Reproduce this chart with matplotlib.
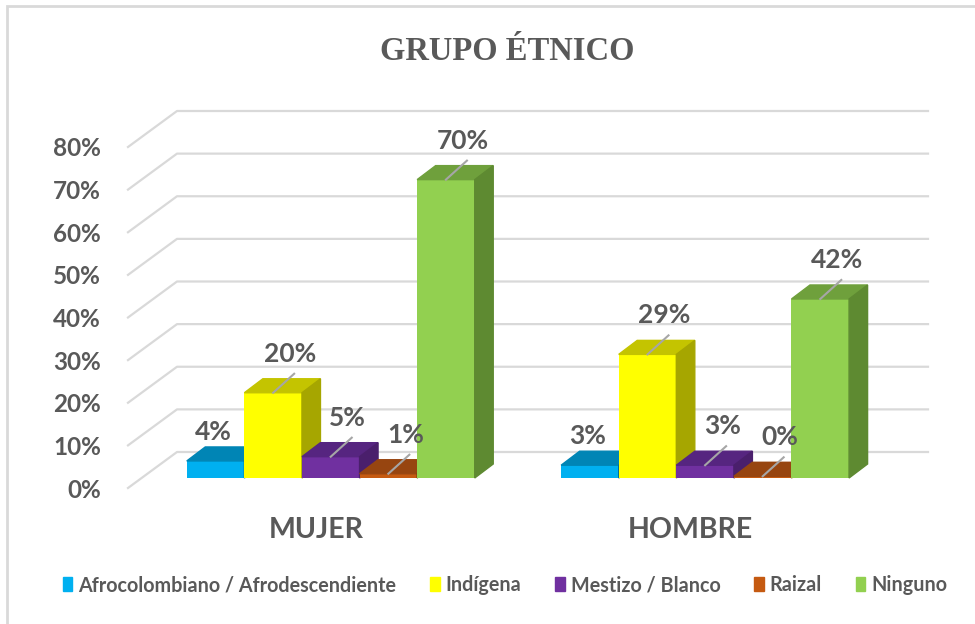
import matplotlib.pyplot as plt
from matplotlib.patches import Polygon, Patch, Rectangle
from matplotlib.lines import Line2D

# data
groups = ["MUJER", "HOMBRE"]
series = ["Afrocolombiano / Afrodescendiente", "Indígena", "Mestizo / Blanco", "Raizal", "Ninguno"]
mujer = [0.04, 0.20, 0.05, 0.01, 0.70]
hombre = [0.03, 0.29, 0.03, 0.004, 0.42]
y_ticks = [0.0, 0.1, 0.2, 0.3, 0.4, 0.5, 0.6, 0.7, 0.8]

# colours: front, top, side
front_c = ["#00B0F0", "#FFFF00", "#7030A0", "#C55A11", "#92D050"]
top_c = ["#0085B5", "#C4C400", "#562580", "#974510", "#6FA03C"]
side_c = ["#006E96", "#A6A600", "#4A1F6C", "#7E390D", "#5E8A31"]
grey = "#595959"
grid_c = "#D9D9D9"

DPI = 100
fig = plt.figure(figsize=(9.75, 6.24), dpi=DPI)
W, H = 975, 624

# axes = plane of the bar front faces
ax_l, ax_r, ax_b, ax_t = 143, 894, 478, 137
ax = fig.add_axes([ax_l / W, 1 - ax_b / H, (ax_r - ax_l) / W, (ax_b - ax_t) / H])
xmin, xmax = -3.26, 9.78
ax.set_xlim(xmin, xmax)
ax.set_ylim(0, 0.8)
ax.axis("off")

sx = (ax_r - ax_l) / (xmax - xmin)  # px per x unit
sy = (ax_b - ax_t) / 0.8            # px per y unit

def px(dx, dy):
    return dx / sx, dy / sy

back = px(34, 26)
front = px(-15, -10)
depth = px(18.5, 14)

# gridlines: diagonal on the floor side + horizontal on the back wall
for v in y_ticks:
    xs = [xmin + front[0], xmin + back[0], xmax + back[0]]
    ys = [v + front[1], v + back[1], v + back[1]]
    ax.add_line(Line2D(xs, ys, color=grid_c, lw=1.6, clip_on=False, zorder=0))
    tx, ty = px(-42, -12)
    ax.text(xmin + tx, v + ty, f"{v:.0%}", ha="right", va="center",
            fontsize=17.5, fontweight="bold", color=grey, family="Lato")

centers = [0, 6.5]
bw = 1.0
z = 1
for g, (gc, vals) in enumerate(zip(centers, [mujer, hombre])):
    for i, v in enumerate(vals):
        xc = gc + (i - 2) * bw
        x0, x1 = xc - bw / 2, xc + bw / 2
        dx, dy = depth
        ax.bar(xc, v, width=bw, color=front_c[i], zorder=z, clip_on=False)
        ax.add_patch(Polygon([(x0, v), (x1, v), (x1 + dx, v + dy), (x0 + dx, v + dy)],
                             closed=True, color=top_c[i], zorder=z, clip_on=False))
        ax.add_patch(Polygon([(x1, 0), (x1, v), (x1 + dx, v + dy), (x1 + dx, dy)],
                             closed=True, color=side_c[i], zorder=z, clip_on=False))
        z += 1
        # data labels
        if i == 0:
            lx, ly = px(-2, 29)
        else:
            lx, ly = px(17, 39)
            ex, ey = px(21, 19)
            ax.add_line(Line2D([xc, xc + ex], [v, v + ey], color="#A6A6A6", lw=1.5,
                               clip_on=False, zorder=100))
        ax.text(xc + lx, v + ly, f"{v:.0%}", ha="center", va="center", fontsize=19,
                fontweight="bold", color=grey, family="Lato", zorder=101)
    cx, cy = px(-15, -52)
    ax.text(gc + cx, cy, groups[g], ha="center", va="center", fontsize=20.5,
            fontweight="bold", color=grey, family="Lato")

fig.text(507 / W, 1 - 52 / H, "GRUPO ÉTNICO", ha="center", va="center", fontsize=23.5,
         fontweight="bold", color=grey, family="Liberation Serif")

handles = [Patch(facecolor=c, edgecolor=c) for c in front_c]
fig.legend(handles, series, loc="center", bbox_to_anchor=(505 / W, 1 - 585 / H), ncol=5,
           frameon=False, handlelength=0.5, handleheight=0.7, handletextpad=0.3,
           columnspacing=1.7, prop={"family": "Lato", "weight": "bold", "size": 14.2},
           labelcolor=grey)

# chart border
fig.patches.append(Rectangle((7 / W, -0.1), 1.1, 1 - 6 / H + 0.1, transform=fig.transFigure,
                             fill=False, edgecolor=grid_c, lw=2))

fig.savefig("out.png", dpi=DPI)
